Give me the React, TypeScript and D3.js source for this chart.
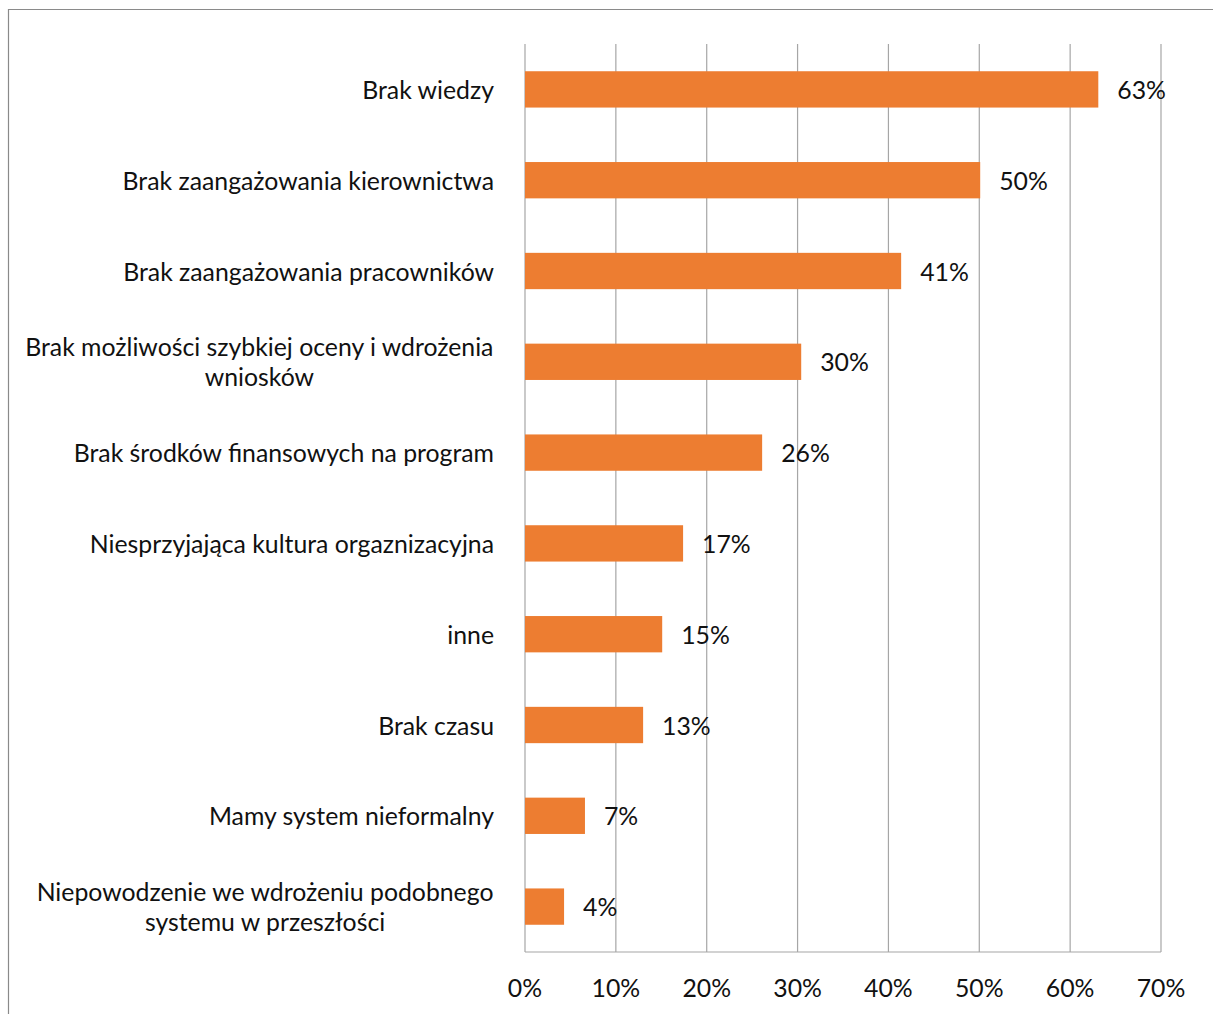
import React from "react";
import * as d3 from "d3";

const categories: string[][] = [
  ["Brak wiedzy"],
  ["Brak zaangażowania kierownictwa"],
  ["Brak zaangażowania pracowników"],
  ["Brak możliwości szybkiej oceny i wdrożenia", "wniosków"],
  ["Brak środków finansowych na program"],
  ["Niesprzyjająca kultura orgaznizacyjna"],
  ["inne"],
  ["Brak czasu"],
  ["Mamy system nieformalny"],
  ["Niepowodzenie we wdrożeniu podobnego", "systemu w przeszłości"],
];
const values: number[] = [0.631, 0.501, 0.414, 0.304, 0.261, 0.174, 0.151, 0.13, 0.066, 0.043];
const valueLabels: string[] = ["63%", "50%", "41%", "30%", "26%", "17%", "15%", "13%", "7%", "4%"];
const ticks: number[] = [0, 0.1, 0.2, 0.3, 0.4, 0.5, 0.6, 0.7];

const W = 1213;
const H = 1014;
const FONT = "Lato, 'Open Sans', sans-serif";
const FS = 24.8;

function measure(text: string): number {
  const c = document.createElement("canvas").getContext("2d");
  if (!c) return text.length * FS * 0.5;
  c.font = `${FS}px Lato`;
  return c.measureText(text).width;
}

export default function App() {
  const x = d3.scaleLinear().domain([0, 0.7]).range([525, 1161]);
  const y = d3
    .scaleBand<number>()
    .domain(d3.range(categories.length))
    .range([44, 952])
    .paddingInner(0.6)
    .paddingOuter(0.3);
  const labelRight = 494;
  const lineGap = 30;

  return (
    <svg
      width={W}
      height={H}
      style={{ position: "absolute", left: 0, top: 0, background: "#fff" }}
      fontFamily={FONT}
    >
      <rect x={0} y={0} width={W} height={H} fill="#fff" />
      <path d={`M8.5,${H + 5} V9.5 H${W + 5}`} fill="none" stroke="#8a8a8a" strokeWidth={1.2} />
      {ticks.map((t) => (
        <line key={t} x1={x(t)} x2={x(t)} y1={44} y2={952} stroke="#a6a6a6" strokeWidth={1.2} />
      ))}
      <line x1={x(0)} x2={x(0.7)} y1={952} y2={952} stroke="#a6a6a6" strokeWidth={1.2} />
      {values.map((v, i) => (
        <rect key={i} x={x(0)} y={y(i)} width={x(v) - x(0)} height={y.bandwidth()} fill="#ED7D31" />
      ))}
      {values.map((v, i) => (
        <text
          key={i}
          x={x(v) + 19}
          y={(y(i) as number) + y.bandwidth() / 2 + 1}
          dy="0.35em"
          fontSize={FS}
          fill="#111"
        >
          {valueLabels[i]}
        </text>
      ))}
      {categories.map((lines, i) => {
        const cy = (y(i) as number) + y.bandwidth() / 2 + 1;
        if (lines.length === 1) {
          return (
            <text key={i} x={labelRight} y={cy} dy="0.35em" textAnchor="end" fontSize={FS} fill="#111">
              {lines[0]}
            </text>
          );
        }
        const w = measure(lines[0]);
        const cx = labelRight - w / 2;
        return (
          <g key={i}>
            {lines.map((l, j) => (
              <text
                key={j}
                x={cx}
                y={cy + (j - (lines.length - 1) / 2) * lineGap}
                dy="0.35em"
                textAnchor="middle"
                fontSize={FS}
                fill="#111"
              >
                {l}
              </text>
            ))}
          </g>
        );
      })}
      {ticks.map((t) => (
        <text key={t} x={x(t)} y={988} dy="0.35em" textAnchor="middle" fontSize={FS} fill="#111">
          {d3.format(".0%")(t)}
        </text>
      ))}
    </svg>
  );
}
